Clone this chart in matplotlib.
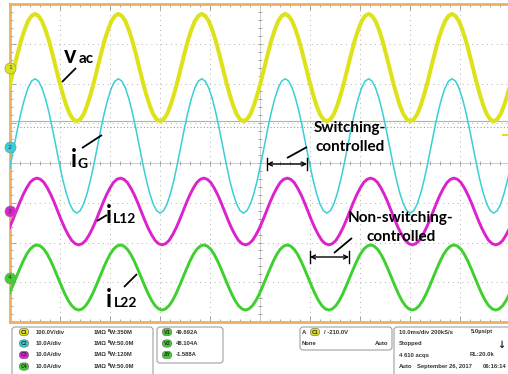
import numpy as np
import matplotlib.pyplot as plt
from matplotlib.patches import FancyBboxPatch

# one cycle of every trace, in divisions, read every 15 deg starting at a peak
vac_cycle = [3.75, 3.70, 3.57, 3.35, 3.08, 2.75, 2.40, 2.05, 1.73, 1.45, 1.23, 1.10,
             1.05, 1.10, 1.23, 1.45, 1.73, 2.05, 2.40, 2.75, 3.08, 3.35, 3.57, 3.70]
ig_cycle = [2.12, 2.06, 1.89, 1.62, 1.28, 0.87, 0.43, -0.01, -0.42, -0.76, -1.03, -1.20,
            -1.26, -1.20, -1.03, -0.76, -0.42, -0.01, 0.43, 0.87, 1.28, 1.62, 1.89, 2.06]
il12_cycle = [-0.38, -0.41, -0.49, -0.63, -0.80, -1.00, -1.22, -1.44, -1.64, -1.81, -1.95, -2.03,
              -2.06, -2.03, -1.95, -1.81, -1.64, -1.44, -1.22, -1.00, -0.80, -0.63, -0.49, -0.41]
il22_cycle = [-2.06, -2.09, -2.17, -2.30, -2.47, -2.67, -2.88, -3.09, -3.29, -3.46, -3.59, -3.67,
              -3.70, -3.67, -3.59, -3.46, -3.29, -3.09, -2.88, -2.67, -2.47, -2.30, -2.17, -2.09]

period_ms = 16.68
peak_ms = [5.0, 5.0, 5.4, 5.4]
offsets = [2.39, 0.40, -1.21, -2.89]
channel_names = ['1', '2', '3', '4']
colors = ['#dde21a', '#38cfd6', '#dc22cc', '#3fcf2e']
widths = [2.9, 1.1, 2.1, 2.1]
cursor_levels = [1.06, 0.91]

fig = plt.figure(figsize=(5.08, 3.74), dpi=100)
fig.patch.set_facecolor('white')

ax = fig.add_axes([10 / 508, 52 / 374, 500 / 508, 318 / 374])
ax.set_xlim(0, 100)
ax.set_ylim(-4, 4)
ax.set_xticks(np.arange(0, 101, 10))
ax.set_yticks(np.arange(-4, 5, 1))
ax.set_xticks(np.arange(0, 101, 2), minor=True)
ax.set_yticks(np.arange(-4, 4.1, 0.2), minor=True)
ax.tick_params(which='both', direction='in', top=True, right=False, labelleft=False,
               labelbottom=False, color='#999999', width=0.6)
ax.tick_params(which='major', length=4)
ax.tick_params(which='minor', length=2.5)
ax.grid(True, which='major', linestyle=(0, (1, 4)), color='#b0b0b0', lw=0.7)
for side in ['left', 'top', 'bottom']:
    ax.spines[side].set_color('#eeb060')
    ax.spines[side].set_linewidth(2)
ax.spines['right'].set_visible(False)

# centre cross with small ticks
ax.axhline(0, color='#c8c8c8', lw=0.6)
ax.axvline(50, color='#c8c8c8', lw=0.6)
mx = np.arange(0, 101, 2)
my = np.arange(-4, 4.1, 0.2)
ax.plot(mx, np.zeros_like(mx), ls='none', marker='|', ms=3, color='#999999', mew=0.6)
ax.plot(np.full_like(my, 50), my, ls='none', marker='_', ms=3, color='#999999', mew=0.6)

# cursor lines
ax.axhline(cursor_levels[0], color='#7fd87f', lw=0.8)
ax.axhline(cursor_levels[1], color='#5cc85c', lw=0.8, ls=(0, (1, 2)))

cycles = [vac_cycle, ig_cycle, il12_cycle, il22_cycle]
n_cycles = 8
for i in [3, 2, 1, 0]:
    cyc = cycles[i]
    vals = np.array(list(cyc) * n_cycles + [cyc[0]])
    t = peak_ms[i] - period_ms + np.arange(len(vals)) * period_ms / len(cyc)
    ax.plot(t, vals, color=colors[i], lw=widths[i], solid_joinstyle='round', zorder=3 + (3 - i))

# channel ground markers
for off, name, c in zip(offsets, channel_names, colors):
    ax.plot([0], [off], marker='o', ms=8, color=c, mec='#888888', mew=0.4, clip_on=False, zorder=10)
    ax.text(0, off, name, fontsize=4.5, ha='center', va='center', color='#333333', zorder=11,
            clip_on=False)
ax.plot([99], [0.70], marker='_', ms=4, color=colors[0], mew=1.5, zorder=10)

# annotation overlay in pixel coordinates
ov = fig.add_axes([0, 0, 1, 1], facecolor='none')
ov.set_xlim(0, 508)
ov.set_ylim(374, 0)
ov.axis('off')

F = 'Lato'
ov.text(64, 63, 'v', fontsize=17, weight='bold', family=F, va='baseline')
ov.text(79, 63, 'ac', fontsize=11, weight='bold', family=F, va='baseline')
ov.text(71, 167, 'i', fontsize=17, weight='bold', family=F, va='baseline')
ov.text(77, 168, 'G', fontsize=10, weight='bold', family=F, va='baseline')
ov.text(106, 223, 'i', fontsize=17, weight='bold', family=F, va='baseline')
ov.text(113, 223, 'L12', fontsize=10, weight='bold', family=F, va='baseline')
ov.text(106, 307, 'i', fontsize=17, weight='bold', family=F, va='baseline')
ov.text(114, 307, 'L22', fontsize=10, weight='bold', family=F, va='baseline')
ov.text(350, 128, 'Switching-', fontsize=11, weight='bold', family=F, ha='center', va='center')
ov.text(350, 147, 'controlled', fontsize=11, weight='bold', family=F, ha='center', va='center')
ov.text(401, 218, 'Non-switching-', fontsize=11, weight='bold', family=F, ha='center', va='center')
ov.text(401, 237, 'controlled', fontsize=11, weight='bold', family=F, ha='center', va='center')

for (x0, y0, x1, y1) in [(62, 82, 76, 68), (82, 148, 102, 135), (97, 221, 107, 215),
                         (124, 287, 137, 274), (287, 158, 307, 147), (334, 253, 352, 238)]:
    ov.plot([x0, x1], [y0, y1], color='black', lw=1.3, solid_capstyle='butt')

for (x0, x1, y) in [(267, 307, 164), (310, 349, 257)]:
    ov.annotate('', xy=(x1, y), xytext=(x0, y),
                arrowprops=dict(arrowstyle='<->', color='black', lw=1.0, shrinkA=0, shrinkB=0,
                                mutation_scale=7))
    ov.plot([x0, x0], [y - 6, y + 6], color='black', lw=1.0)
    ov.plot([x1, x1], [y - 6, y + 6], color='black', lw=1.0)

# status panel at the bottom
def box(x0, y0, x1, y1):
    ov.add_patch(FancyBboxPatch((x0, y0), x1 - x0, y1 - y0, boxstyle='round,pad=0,rounding_size=3',
                                fc='white', ec='#a0a0a0', lw=0.8, clip_on=False))


def badge(x, y, text, fc):
    ov.text(x, y, text, fontsize=3.4, ha='center', va='center', color='#333333', weight='bold',
            bbox=dict(boxstyle='round,pad=0.25,rounding_size=0.8', fc=fc, ec='#666666', lw=0.4))


box(12, 327, 153, 380)
box(157, 327, 223, 363)
box(300, 327, 392, 350)
box(394, 327, 512, 380)

rows = [332, 343.5, 355, 366.5]
ch_scales = ['100.0V/div', '10.0A/div', '10.0A/div', '10.0A/div']
ch_bw = ['350M', '50.0M', '120M', '50.0M']
ch_badges = ['C1', 'C2', 'C3', 'C4']
meas_names = ['V1', 'V2', 'ΔY']
meas_vals = ['49.692A', '48.104A', '-1.588A']

ts = dict(fontsize=4.2, weight='bold', color='#333333', va='center', family='Liberation Sans')
for y, sc, bw, b, c in zip(rows, ch_scales, ch_bw, ch_badges, colors):
    badge(24, y, b, c)
    ov.text(36, y, sc, **ts)
    ov.text(94, y, '1MΩ', **ts)
    ov.text(108, y, 'ᴮW:' + bw, **ts)
for y, n, v in zip(rows, meas_names, meas_vals):
    badge(167, y, n, '#3fcf2e')
    ov.text(176, y, v, **ts)

ov.text(302, rows[0], 'A', **ts)
badge(315, rows[0], 'C1', colors[0])
ov.text(324, rows[0], '/ -210.0V', **ts)
ov.text(302, rows[1], 'None', **ts)
ov.text(388, rows[1], 'Auto', ha='right', **ts)

ov.text(399, rows[0], '10.0ms/div 200kS/s', **ts)
ov.text(471, rows[0], '5.0µs/pt', **ts)
ov.text(399, rows[1], 'Stopped', **ts)
ov.text(501, rows[1] + 1, '↓', fontsize=7, weight='bold', color='#222222', va='center', ha='center')
ov.text(399, rows[2], '4 610 acqs', **ts)
ov.text(470, rows[2], 'RL:20.0k', **ts)
ov.text(399, rows[3], 'Auto', **ts)
ov.text(417, rows[3], 'September 26, 2017', **ts)
ov.text(483, rows[3], '06:16:14', **ts)

fig.savefig('out.png', dpi=100)
